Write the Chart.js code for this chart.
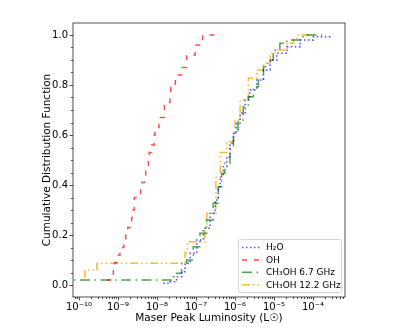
<!DOCTYPE html>
<html>
<head>
<meta charset="utf-8">
<script src="https://cdn.jsdelivr.net/npm/chart.js@4.4.0/dist/chart.umd.min.js"></script>
<style>
    html, body { margin: 0; padding: 0; background: #fff; }
</style>
</head>
<body>
<canvas id="cdfChart" width="407" height="330"></canvas>
<script>
// log10 of peak luminosity (L_sun) and cumulative fraction after each step
const h2oLogL = [-7.84, -7.67, -7.50, -7.37, -7.28, -7.15, -6.98, -6.81, -6.64, -6.51, -6.43, -6.38, -6.30, -6.21, -6.13, -6.04, -5.96, -5.87, -5.74, -5.62, -5.44, -5.27, -5.10, -4.93, -4.67, -4.33, -3.99, -3.56];
const h2oCdf  = [0.007, 0.013, 0.033, 0.053, 0.087, 0.127, 0.18, 0.227, 0.287, 0.34, 0.393, 0.433, 0.473, 0.513, 0.567, 0.607, 0.647, 0.687, 0.74, 0.78, 0.82, 0.86, 0.90, 0.927, 0.953, 0.98, 0.993, 1.0];

const ohLogL = [-9.30, -9.12, -9.08, -8.99, -8.95, -8.85, -8.80, -8.75, -8.65, -8.62, -8.58, -8.42, -8.39, -8.32, -8.29, -8.22, -8.20, -8.14, -8.07, -8.05, -7.95, -7.92, -7.81, -7.67, -7.65, -7.53, -7.51, -7.37, -7.24, -7.02, -6.83, -6.34];
const ohCdf  = [0.02, 0.06, 0.09, 0.12, 0.15, 0.18, 0.20, 0.23, 0.27, 0.30, 0.35, 0.38, 0.41, 0.44, 0.47, 0.50, 0.53, 0.56, 0.60, 0.63, 0.66, 0.67, 0.73, 0.76, 0.79, 0.82, 0.84, 0.87, 0.92, 0.96, 1.0, 1.0];

const ch3oh67LogL = [-10.5, -7.58, -7.50, -7.37, -7.24, -7.07, -6.90, -6.73, -6.56, -6.43, -6.34, -6.26, -6.13, -6.04, -5.92, -5.79, -5.66, -5.53, -5.40, -5.27, -5.15, -5.02, -4.85, -4.67, -4.33, -4.16, -3.77];
const ch3oh67Cdf  = [0.02, 0.033, 0.047, 0.087, 0.10, 0.153, 0.207, 0.26, 0.327, 0.393, 0.447, 0.487, 0.553, 0.607, 0.66, 0.713, 0.753, 0.793, 0.82, 0.873, 0.90, 0.94, 0.967, 0.98, 0.993, 1.0, 1.0];

const ch3oh122LogL = [-9.85, -9.85, -9.54, -7.28, -7.22, -6.77, -6.72, -6.49, -6.38, -6.21, -6.04, -6.00, -5.87, -5.66, -5.44, -5.27, -5.10, -4.97, -4.67, -4.50, -4.38, -3.99];
const ch3oh122Cdf  = [0.028, 0.06, 0.087, 0.13, 0.173, 0.23, 0.287, 0.43, 0.53, 0.573, 0.607, 0.66, 0.74, 0.827, 0.86, 0.887, 0.927, 0.94, 0.967, 0.987, 1.0, 1.0];

const seriesLabels = ["H\u2082O", "OH", "CH\u2083OH 6.7 GHz", "CH\u2083OH 12.2 GHz"];
const yTickLabels = ["0.0", "0.2", "0.4", "0.6", "0.8", "1.0"];

const FONT = "'DejaVu Sans', sans-serif";
const SUP = { "-": "\u207B", "0": "\u2070", "1": "\u00B9", "2": "\u00B2", "3": "\u00B3", "4": "\u2074", "5": "\u2075", "6": "\u2076", "7": "\u2077", "8": "\u2078", "9": "\u2079" };

function toPoints(logL, cdf) {
    return logL.map((l, i) => ({ x: Math.pow(10, l), y: cdf[i] }));
}

function powLabel(v) {
    const e = Math.log10(v);
    if (Math.abs(e - Math.round(e)) > 1e-6) return "";
    return "10" + String(Math.round(e)).split("").map(c => SUP[c]).join("");
}

// Rahmen, Nebenticks und Legende wie bei matplotlib
const framePlugin = {
    id: "frame",
    afterDraw(chart) {
        const ctx = chart.ctx;
        const a = chart.chartArea;
        const xs = chart.scales.x, ys = chart.scales.y;
        ctx.save();
        ctx.strokeStyle = "#222";
        ctx.lineWidth = 0.8;
        ctx.strokeRect(a.left, a.top, a.right - a.left, a.bottom - a.top);

        ctx.beginPath();
        for (let e = -11; e <= -3; e++) {
            for (let k = 1; k <= 9; k++) {
                const v = k * Math.pow(10, e);
                if (v < xs.min || v > xs.max) continue;
                const px = Math.round(xs.getPixelForValue(v)) + 0.5;
                ctx.moveTo(px, a.bottom);
                ctx.lineTo(px, a.bottom + (k === 1 ? 3.5 : 2));
            }
        }
        for (let i = 0; i <= 20; i++) {
            const v = i * 0.05;
            const py = Math.round(ys.getPixelForValue(v)) + 0.5;
            ctx.moveTo(a.left, py);
            ctx.lineTo(a.left - (i % 4 === 0 ? 3.5 : 2), py);
        }
        ctx.stroke();

        // Legende
        const bx = 238, by = 239, bw = 103, bh = 53;
        ctx.fillStyle = "rgba(255,255,255,0.8)";
        ctx.strokeStyle = "#cccccc";
        ctx.lineWidth = 0.8;
        ctx.beginPath();
        ctx.roundRect(bx + 0.5, by + 0.5, bw, bh, 2);
        ctx.fill();
        ctx.stroke();
        ctx.font = "9px " + FONT;
        ctx.textBaseline = "middle";
        chart.data.datasets.forEach((ds, i) => {
            const y = by + 8.5 + i * 12.4;
            ctx.strokeStyle = ds.borderColor;
            ctx.lineWidth = ds.borderWidth;
            ctx.setLineDash(ds.borderDash);
            ctx.beginPath();
            ctx.moveTo(bx + 4, y);
            ctx.lineTo(bx + 24, y);
            ctx.stroke();
            ctx.setLineDash([]);
            ctx.fillStyle = "#000";
            ctx.fillText(ds.label, bx + 28, y + 0.5);
        });
        ctx.restore();
    }
};

const ctx = document.getElementById("cdfChart").getContext("2d");
const cdfChart = new Chart(ctx, {
    type: "line",
    data: {
        datasets: [
            { label: seriesLabels[0], data: toPoints(h2oLogL, h2oCdf), borderColor: "rgba(0,0,255,0.7)", borderDash: [1.5, 2.5] },
            { label: seriesLabels[1], data: toPoints(ohLogL, ohCdf), borderColor: "rgba(255,0,0,0.7)", borderDash: [5, 7] },
            { label: seriesLabels[2], data: toPoints(ch3oh67LogL, ch3oh67Cdf), borderColor: "rgba(0,128,0,0.7)", borderDash: [10, 4.5, 1.5, 4.5] },
            { label: seriesLabels[3], data: toPoints(ch3oh122LogL, ch3oh122Cdf), borderColor: "rgba(255,165,0,0.8)", borderDash: [8, 3, 1.5, 3, 1.5, 3] }
        ].map(ds => Object.assign(ds, { stepped: "before", borderWidth: 1.5, pointRadius: 0, fill: false }))
    },
    options: {
        responsive: false,
        animation: false,
        layout: { padding: { top: 23, right: 62, bottom: 0, left: 0 } },
        plugins: { legend: { display: false }, tooltip: { enabled: false } },
        scales: {
            x: {
                type: "logarithmic",
                min: Math.pow(10, -10.154),
                max: Math.pow(10, -3.18),
                afterFit: s => { s.height = 33; },
                grid: { display: true, drawOnChartArea: false, tickLength: 3.5, tickColor: "rgba(0,0,0,0)" },
                border: { display: false },
                ticks: {
                    autoSkip: false, maxRotation: 0, padding: 0.5,
                    color: "#000", font: { family: FONT, size: 10 },
                    callback: v => powLabel(v)
                },
                title: {
                    display: true, text: "Maser Peak Luminosity (L\u2609)",
                    color: "#000", font: { family: FONT, size: 10.5 },
                    padding: { top: 0, bottom: 5.7 }
                }
            },
            y: {
                min: -0.048,
                max: 1.048,
                afterFit: s => { s.width = 73; },
                grid: { display: true, drawOnChartArea: false, tickLength: 3.5, tickColor: "rgba(0,0,0,0)" },
                border: { display: false },
                ticks: {
                    stepSize: 0.2, includeBounds: false, padding: 1.5,
                    color: "#000", font: { family: FONT, size: 10 },
                    callback: v => yTickLabels[Math.round(v / 0.2)] || ""
                },
                title: {
                    display: true, text: "Cumulative Distribution Function",
                    color: "#000", font: { family: FONT, size: 10.5 },
                    padding: { top: 40.7, bottom: 0 }
                }
            }
        }
    },
    plugins: [framePlugin]
});
</script>
</body>
</html>
